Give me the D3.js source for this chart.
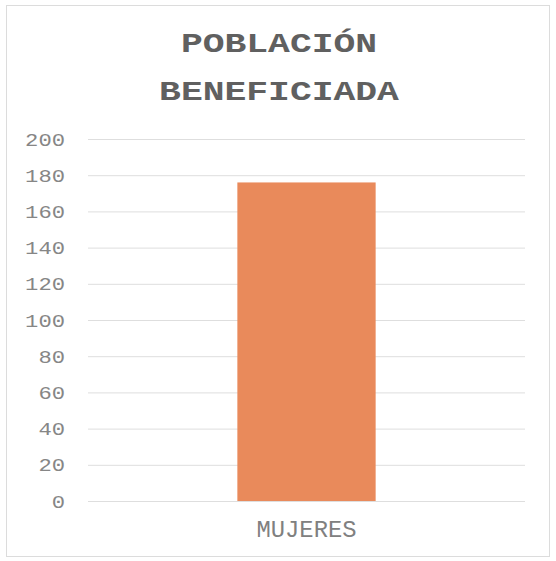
<!DOCTYPE html>
<html><head><meta charset="utf-8">
<script src="https://cdn.jsdelivr.net/npm/d3@7"></script>
<style>body{margin:0;background:#fff}</style>
</head><body>
<svg id="c" width="556" height="561"></svg>
<script>
const categories = ["MUJERES"];
const values = [176];
const yTicks = [0,20,40,60,80,100,120,140,160,180,200];
const titleLines = ["POBLACIÓN","BENEFICIADA"];

const svg = d3.select("#c");
svg.append("rect").attr("x",6.5).attr("y",5.5).attr("width",543).attr("height",551)
  .attr("fill","#fff").attr("stroke","#dcdcdc").attr("stroke-width",1);

const m = {left:88,right:525,top:139,bottom:501};
const y = d3.scaleLinear().domain([0,200]).range([m.bottom,m.top]);
const x = d3.scaleBand().domain(categories).range([m.left,m.right]).paddingInner(0).paddingOuter(1.08);

svg.append("g").selectAll("line").data(yTicks).join("line")
  .attr("x1",m.left).attr("x2",m.right)
  .attr("y1",d=>y(d)+0.5).attr("y2",d=>y(d)+0.5)
  .attr("stroke","#dedede").attr("stroke-width",1);

const mono = "Liberation Mono, monospace";
const yAxis = d3.axisLeft(y).tickValues(yTicks).tickSize(0).tickPadding(0);
const ga = svg.append("g").attr("transform","translate(65,0)").call(yAxis);
ga.select(".domain").remove();
ga.selectAll("text").attr("font-family",mono).attr("font-size",19).attr("fill","#868686")
  .attr("dy","0.32em")
  .attr("textLength",d=>String(d).length*13.3).attr("lengthAdjust","spacingAndGlyphs");

svg.append("g").selectAll("rect").data(values).join("rect")
  .attr("x",(d,i)=>x(categories[i])).attr("width",x.bandwidth())
  .attr("y",d=>y(d)).attr("height",d=>y(0)-y(d))
  .attr("fill","#E98A5B");

const xAxis = d3.axisBottom(x).tickSize(0).tickPadding(0);
const gx = svg.append("g").attr("transform",`translate(0,537)`).call(xAxis);
gx.select(".domain").remove();
gx.selectAll("text").attr("dy",0).attr("y",0).attr("font-family",mono).attr("font-size",23).attr("fill","#808080")
  .attr("textLength",d=>d.length*14.3).attr("lengthAdjust","spacingAndGlyphs");

svg.append("g").selectAll("text").data(titleLines).join("text")
  .attr("x",279).attr("y",(d,i)=>52+i*48).attr("text-anchor","middle")
  .attr("font-family",mono).attr("font-weight","bold")
  .attr("font-size",27).attr("fill","#606060")
  .attr("textLength",d=>d.length*21.8).attr("lengthAdjust","spacingAndGlyphs")
  .text(d=>d);
</script>
</body></html>
